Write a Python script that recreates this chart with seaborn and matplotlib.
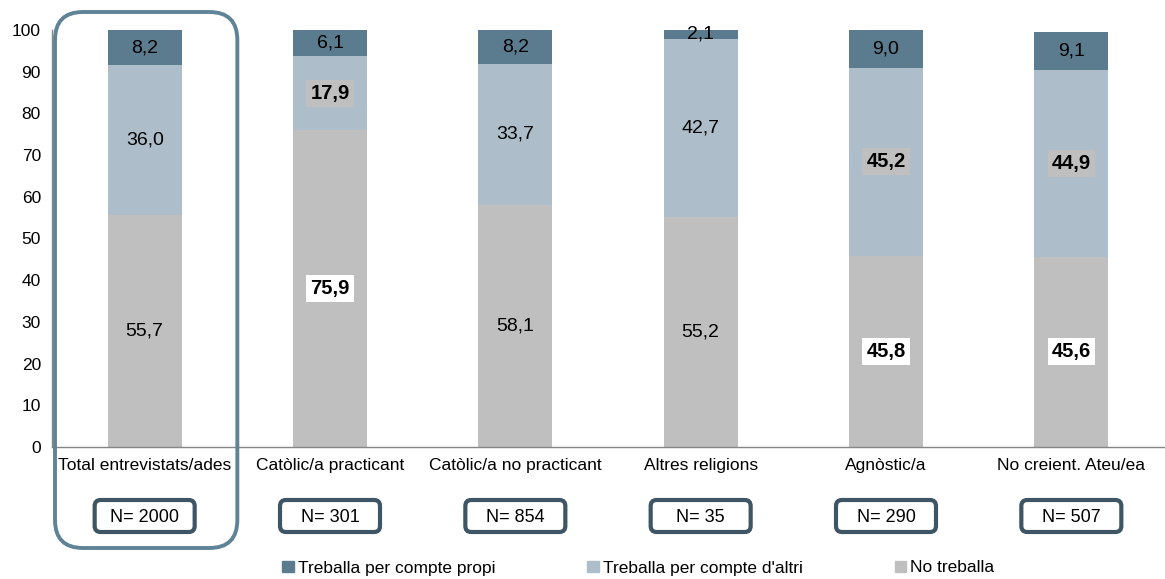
import pandas as pd
import matplotlib.pyplot as plt
import seaborn as sns
from matplotlib.patches import FancyBboxPatch, Patch

# data
categories = ['Total entrevistats/ades', 'Catòlic/a practicant', 'Catòlic/a no practicant',
              'Altres religions', 'Agnòstic/a', 'No creient. Ateu/ea']
n_sizes = [2000, 301, 854, 35, 290, 507]
no_treballa = [55.7, 75.9, 58.1, 55.2, 45.8, 45.6]
compte_altri = [36.0, 17.9, 33.7, 42.7, 45.2, 44.9]
compte_propi = [8.2, 6.1, 8.2, 2.1, 9.0, 9.1]
highlight = [False, True, False, False, True, True]
series_names = ['Treballa per compte propi', "Treballa per compte d'altri", 'No treballa']
colors = ['#5B7B8F', '#ADBECA', '#BFBFBF']

sns.set_style('white')
plt.rcParams['font.family'] = ['Liberation Sans', 'DejaVu Sans']
plt.rcParams['text.color'] = 'black'
plt.rcParams['xtick.color'] = 'black'
plt.rcParams['ytick.color'] = 'black'

df = pd.DataFrame({'cat': categories, 'no': no_treballa, 'altri': compte_altri, 'propi': compte_propi})
df['lvl2'] = df['no'] + df['altri']
df['lvl3'] = df['lvl2'] + df['propi']

W, H = 1165, 579
fig = plt.figure(figsize=(W / 100, H / 100), dpi=100)
ax = fig.add_axes([52 / W, 1 - 447 / H, (1164 - 52) / W, (447 - 30) / H])

# stacked bars drawn as overlapping cumulative bars
for col, c in zip(['lvl3', 'lvl2', 'no'], colors):
    sns.barplot(data=df, x='cat', y=col, color=c, width=0.4, errorbar=None,
                saturation=1, linewidth=0, ax=ax, order=categories)

ax.set_ylim(0, 100)
ax.set_xlim(-0.5, len(categories) - 0.5)
ax.set_yticks(range(0, 101, 10))
ax.set_xlabel('')
ax.set_ylabel('')
ax.set_xticks(range(len(categories)))
ax.set_xticklabels(categories, fontsize=12.5)
ax.set_xticks([i + 0.5 for i in range(-1, len(categories))], minor=True)
ax.tick_params(axis='x', which='major', length=0, pad=8)
ax.tick_params(axis='x', which='minor', length=5, color='#868686', direction='out')
ax.tick_params(axis='y', length=5, color='#868686', direction='out', labelsize=12.5, pad=3)
for s in ['top', 'right']:
    ax.spines[s].set_visible(False)
for s in ['left', 'bottom']:
    ax.spines[s].set_color('#868686')
    ax.spines[s].set_linewidth(1)


def fmt(v):
    return f'{v:.1f}'.replace('.', ',')


for i, row in df.iterrows():
    hl = highlight[i]
    kw = dict(ha='center', va='center', fontsize=14)
    bkw = dict(ha='center', va='center', fontsize=14.5, fontweight='bold')
    # No treballa
    if hl:
        ax.text(i, row['no'] / 2, fmt(row['no']),
                bbox=dict(boxstyle='square,pad=0.2', fc='white', ec='none'), **bkw)
    else:
        ax.text(i, row['no'] / 2, fmt(row['no']), **kw)
    # compte d'altri
    y2 = row['no'] + row['altri'] / 2
    if hl:
        ax.text(i, y2, fmt(row['altri']),
                bbox=dict(boxstyle='square,pad=0.2', fc='#BFBFBF', ec='none'), **bkw)
    else:
        ax.text(i, y2, fmt(row['altri']), **kw)
    # compte propi
    ax.text(i, row['lvl2'] + row['propi'] / 2, fmt(row['propi']), **kw)

# N boxes under the category labels (pixel coordinates)
for i, n in enumerate(n_sizes):
    xc = ax.transData.transform((i, 0))[0]
    box = FancyBboxPatch((xc - 50, H - 532), 100, 32,
                         boxstyle='round,pad=0,rounding_size=6',
                         transform=None, fc='white', ec='#3E5566', lw=3)
    fig.add_artist(box)
    fig.text(xc / W, (H - 517) / H, f'N= {n}', ha='center', va='center', fontsize=13)

# highlight frame around the total column
x0 = ax.transData.transform((-0.5, 0))[0] + 3
x1 = ax.transData.transform((0.5, 0))[0]
frame = FancyBboxPatch((x0, H - 548), x1 - x0, 536,
                       boxstyle='round,pad=0,rounding_size=28',
                       transform=None, fc='none', ec='#5F8397', lw=2.8)
fig.add_artist(frame)

handles = [Patch(color=c) for c in colors]
fig.legend(handles, series_names, loc='center', bbox_to_anchor=(0.548, 1 - 568 / H),
           ncol=3, frameon=False, fontsize=12.5, handlelength=0.65, handleheight=0.65,
           handletextpad=0.25, columnspacing=5.3)

fig.savefig('out.png', dpi=100)
